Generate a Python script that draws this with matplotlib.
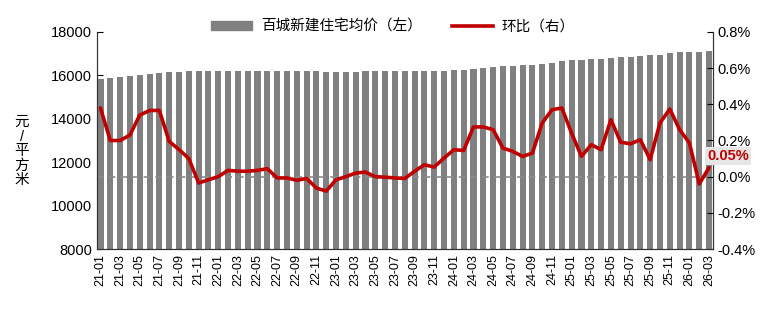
import matplotlib
matplotlib.use("Agg")
import matplotlib.pyplot as plt
from matplotlib.patches import Patch
from matplotlib.lines import Line2D

plt.rcParams['font.family'] = ['Liberation Sans', 'Noto Sans CJK SC']
plt.rcParams['axes.unicode_minus'] = False

# months 21-01 .. 26-03
months = [f"{y:02d}-{m:02d}" for y in range(21, 27) for m in range(1, 13)][:63]

# 百城新建住宅均价 (元/平方米)
price = [15850, 15880, 15910, 15950, 16000, 16060, 16110, 16140, 16160, 16180,
         16185, 16180, 16180, 16185, 16190, 16195, 16195, 16200, 16200, 16200,
         16195, 16190, 16180, 16170, 16170, 16170, 16175, 16180, 16180, 16180,
         16180, 16180, 16185, 16195, 16205, 16220, 16245, 16270, 16310, 16350,
         16395, 16420, 16445, 16460, 16480, 16530, 16590, 16650, 16690, 16710,
         16740, 16760, 16810, 16840, 16870, 16900, 16920, 16960, 17020, 17060,
         17090, 17100, 17110]

# 环比 (%)
mom = [0.38, 0.20, 0.20, 0.23, 0.34, 0.366, 0.366, 0.195, 0.15, 0.10,
       -0.035, -0.017, 0.0, 0.035, 0.03, 0.03, 0.035, 0.044, -0.007, -0.007,
       -0.02, -0.01, -0.063, -0.08, -0.017, 0.0, 0.02, 0.025, 0.0, -0.003,
       -0.007, -0.01, 0.03, 0.066, 0.053, 0.103, 0.149, 0.145, 0.275, 0.275,
       0.26, 0.158, 0.14, 0.112, 0.13, 0.297, 0.37, 0.38, 0.24, 0.112,
       0.177, 0.149, 0.315, 0.19, 0.182, 0.204, 0.094, 0.297, 0.374, 0.26,
       0.186, -0.04, 0.05]

x = list(range(len(months)))

fig = plt.figure(figsize=(7.75, 3.16), dpi=100)
ax = fig.add_axes([0.1252, 0.212, 0.7948, 0.6868])
ax2 = ax.twinx()

ax.bar(x, price, width=0.62, color='#808080', zorder=2)
ax.set_ylim(8000, 18000)
ax.set_yticks(range(8000, 18001, 2000))
ax.set_xlim(-0.35, 62.4)
ax.set_xticks(x[::2])
ax.set_xticklabels(months[::2], rotation=90, fontsize=9)
ax.tick_params(axis='y', direction='in', labelsize=10.5, length=4)
ax.tick_params(axis='x', direction='in', length=3)
ax.set_ylabel("元\n/\n平\n方\n米", rotation=0, fontsize=10.5, linespacing=1.05,
              va='center', ha='center')
ax.yaxis.set_label_coords(-0.122, 0.45)

ax2.axhline(0, color='#8c8c8c', lw=1.2, ls=(0, (4, 3)), zorder=1)
ax2.plot(x, mom, color='#C00000', lw=2.6, solid_joinstyle='round',
         solid_capstyle='round', zorder=3)
ax2.set_ylim(-0.4, 0.8)
ax2.set_yticks([-0.4, -0.2, 0.0, 0.2, 0.4, 0.6, 0.8])
ax2.set_yticklabels([f"{v:.1f}%" for v in [-0.4, -0.2, 0.0, 0.2, 0.4, 0.6, 0.8]])
ax2.tick_params(axis='y', direction='in', labelsize=10.5, length=4)

for a in (ax, ax2):
    a.spines['top'].set_visible(False)
    for s in ('left', 'right', 'bottom'):
        a.spines[s].set_color('#333333')

ax2.annotate(f"{mom[-1]:.2f}%", xy=(x[-1], mom[-1]), xytext=(-1.5, 8.5),
             textcoords='offset points', ha='left', va='center',
             color='#C00000', fontweight='bold', fontsize=10.5,
             bbox=dict(boxstyle='square,pad=0.15', fc='#e6e6e6', ec='none'),
             zorder=5)

handles = [Patch(color='#808080'), Line2D([], [], color='#C00000', lw=2.6)]
fig.legend(handles, ["百城新建住宅均价（左）", "环比（右）"], loc='center',
           bbox_to_anchor=(0.507, 0.915), ncol=2, frameon=False, fontsize=10.5,
           handlelength=2.8, handleheight=0.6, columnspacing=2.1,
           handletextpad=0.6)

fig.savefig("out.png", dpi=100)
